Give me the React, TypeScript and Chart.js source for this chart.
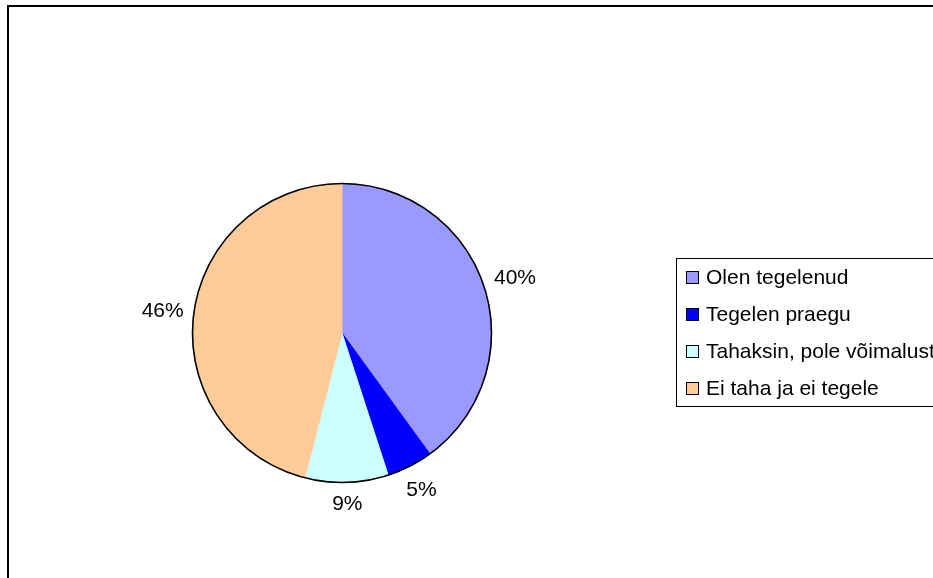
import React, { useEffect, useRef } from "react";
import { Chart, registerables } from "chart.js";

Chart.register(...registerables);

const categories = ["Olen tegelenud", "Tegelen praegu", "Tahaksin, pole võimalust", "Ei taha ja ei tegele"];
const values = [40, 5, 9, 46];
const colors = ["#9999FF", "#0000FF", "#CCFFFF", "#FFCC99"];

const FONT = '"Liberation Sans", Arial, sans-serif';
const FONT_SIZE = 21;

const W = 933;
const H = 578;

const decorPlugin = {
  id: "decor",
  beforeDraw(chart: any) {
    const ctx = chart.ctx;
    ctx.save();
    ctx.fillStyle = "#ffffff";
    ctx.fillRect(0, 0, chart.width, chart.height);
    ctx.restore();
  },
  afterDraw(chart: any) {
    const ctx = chart.ctx;
    const meta = chart.getDatasetMeta(0);
    const arcs = meta.data;
    if (!arcs.length) return;
    const cx = arcs[0].x;
    const cy = arcs[0].y;
    const r = arcs[0].outerRadius;
    ctx.save();
    // outer frame
    ctx.strokeStyle = "#000000";
    ctx.lineWidth = 2;
    ctx.strokeRect(8, 6, chart.width + 20, chart.height + 20);
    // pie outline
    ctx.lineWidth = 1.6;
    ctx.beginPath();
    ctx.arc(cx, cy, r, 0, Math.PI * 2);
    ctx.stroke();
    // percentage labels
    const data = chart.data.datasets[0].data as number[];
    const total = data.reduce((a, b) => a + b, 0);
    ctx.font = `${FONT_SIZE}px ${FONT}`;
    ctx.fillStyle = "#000000";
    ctx.textAlign = "center";
    ctx.textBaseline = "middle";
    arcs.forEach((arc: any, i: number) => {
      const mid = (arc.startAngle + arc.endAngle) / 2;
      const ux = Math.cos(mid);
      const uy = Math.sin(mid);
      const text = Math.round((data[i] / total) * 100) + "%";
      const w = ctx.measureText(text).width;
      const h = FONT_SIZE * 1.05;
      const d = Math.abs(ux) * w / 2 + Math.abs(uy) * h / 2;
      const rr = r + 9 + d;
      ctx.fillText(text, cx + ux * rr, cy + uy * rr + 1);
    });
    // legend
    const lx = 676;
    const ly = 258;
    const lh = 148;
    ctx.lineWidth = 1;
    ctx.strokeStyle = "#000000";
    ctx.strokeRect(lx + 0.5, ly + 0.5, 300, lh);
    ctx.textAlign = "left";
    const labels = chart.data.labels as string[];
    const bg = chart.data.datasets[0].backgroundColor as string[];
    labels.forEach((lab, i) => {
      const y = 277 + i * 37;
      ctx.fillStyle = bg[i];
      ctx.fillRect(686, y - 6, 13, 13);
      ctx.strokeStyle = "#000000";
      ctx.strokeRect(686.5, y - 5.5, 12, 12);
      ctx.fillStyle = "#000000";
      ctx.fillText(lab, 706, y + 1);
    });
    ctx.restore();
  },
};

export default function App() {
  const ref = useRef<HTMLCanvasElement>(null);
  useEffect(() => {
    if (!ref.current) return;
    const chart = new Chart(ref.current, {
      type: "pie",
      data: {
        labels: categories,
        datasets: [
          {
            data: values,
            backgroundColor: colors,
            borderColor: colors,
            borderWidth: 1,
          },
        ],
      },
      options: {
        responsive: false,
        animation: false,
        devicePixelRatio: 1,
        layout: { padding: { left: 192, top: 183, right: W - 492, bottom: H - 483 } },
        plugins: { legend: { display: false }, tooltip: { enabled: false } },
      },
      plugins: [decorPlugin],
    });
    return () => chart.destroy();
  }, []);
  return (
    <div style={{ position: "fixed", left: 0, top: 0, width: W, height: H, background: "#fff" }}>
      <canvas ref={ref} width={W} height={H} style={{ width: W, height: H, display: "block" }} />
    </div>
  );
}
